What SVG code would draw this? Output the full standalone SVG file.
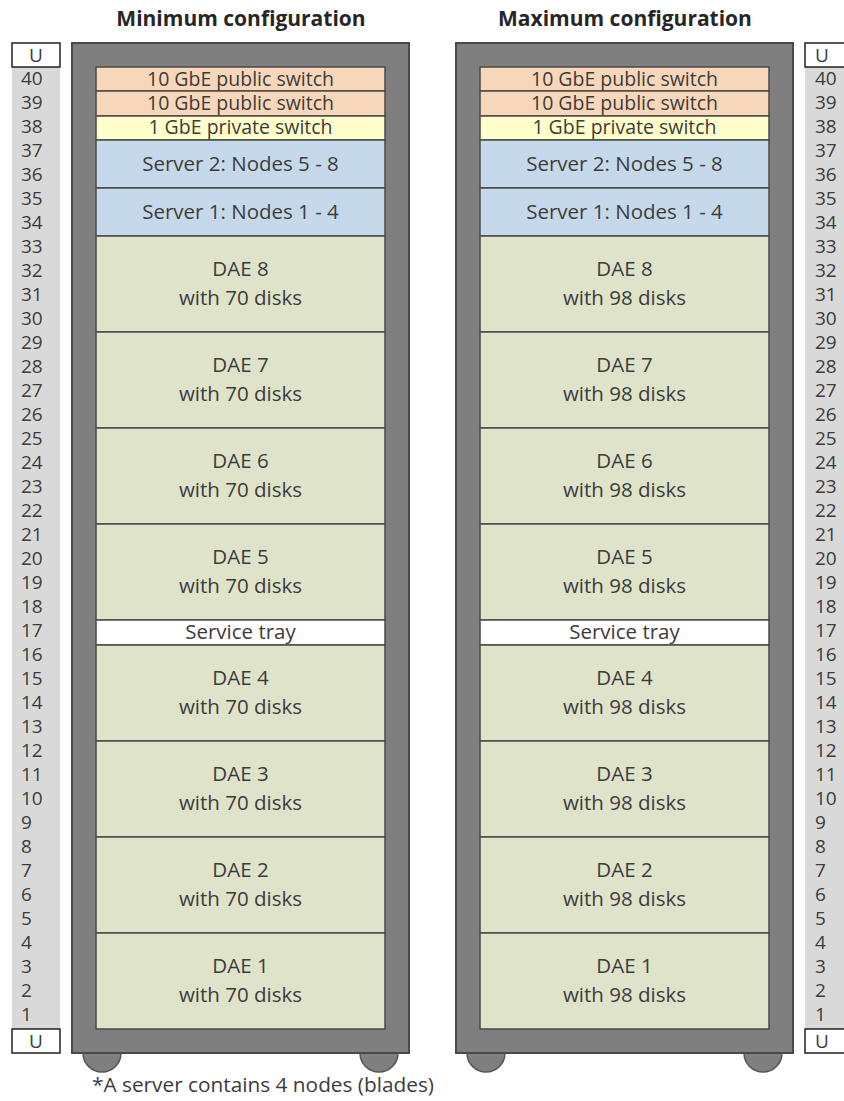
<svg xmlns="http://www.w3.org/2000/svg" width="844" height="1101" viewBox="0 0 844 1101">
  <defs>
    <style>
      text { font-family: "Open Sans", "Noto Sans", "DejaVu Sans", sans-serif; fill: #3c3c3c; }
      .title { font-size: 21px; font-weight: bold; text-anchor: middle; fill: #262626; }
      .u { font-size: 19px; }
      .lbl { font-size: 20.5px; text-anchor: middle; }
      .sw { font-size: 19.5px; }
      .rack { fill: #7f7f7f; stroke: #4a4a4a; stroke-width: 2; }
      .foot { fill: #7f7f7f; stroke: #555; stroke-width: 1.5; }
      .slot { stroke: #4a4a4a; stroke-width: 1.5; }
      .pub { fill: #f8d6ba; }
      .priv { fill: #ffffcb; }
      .srv { fill: #c6d9ea; }
      .dae { fill: #dfe3ca; }
      .tray { fill: #ffffff; }
      .ucol { fill: #d9d9d9; }
      .ubox { fill: #ffffff; stroke: #222; stroke-width: 1.5; }
    </style>
  </defs>

  <!-- titles -->
  <text class="title" x="241" y="26">Minimum configuration</text>
  <text class="title" x="625" y="26">Maximum configuration</text>

  <!-- unit rulers -->
  <g id="ruler-left">
    <rect class="ucol" x="12" y="67" width="48" height="962"/>
    <rect class="ubox" x="12" y="43" width="48" height="24"/>
    <rect class="ubox" x="12" y="1029" width="48" height="24"/>
    <text class="u" x="36" y="62" text-anchor="middle">U</text>
    <text class="u" x="36" y="1048" text-anchor="middle">U</text>
    <g class="u">
      <text x="21" y="85">40</text><text x="21" y="109">39</text><text x="21" y="133">38</text><text x="21" y="157">37</text>
      <text x="21" y="181">36</text><text x="21" y="205">35</text><text x="21" y="229">34</text><text x="21" y="253">33</text>
      <text x="21" y="277">32</text><text x="21" y="301">31</text><text x="21" y="325">30</text><text x="21" y="349">29</text>
      <text x="21" y="373">28</text><text x="21" y="397">27</text><text x="21" y="421">26</text><text x="21" y="445">25</text>
      <text x="21" y="469">24</text><text x="21" y="493">23</text><text x="21" y="517">22</text><text x="21" y="541">21</text>
      <text x="21" y="565">20</text><text x="21" y="589">19</text><text x="21" y="613">18</text><text x="21" y="637">17</text>
      <text x="21" y="661">16</text><text x="21" y="685">15</text><text x="21" y="709">14</text><text x="21" y="733">13</text>
      <text x="21" y="757">12</text><text x="21" y="781">11</text><text x="21" y="805">10</text><text x="21" y="829">9</text>
      <text x="21" y="853">8</text><text x="21" y="877">7</text><text x="21" y="901">6</text><text x="21" y="925">5</text>
      <text x="21" y="949">4</text><text x="21" y="973">3</text><text x="21" y="997">2</text><text x="21" y="1021">1</text>
    </g>
  </g>

  <g id="ruler-right">
    <rect class="ucol" x="805" y="67" width="48" height="962"/>
    <rect class="ubox" x="805" y="43" width="48" height="24"/>
    <rect class="ubox" x="805" y="1029" width="48" height="24"/>
    <text class="u" x="822" y="62" text-anchor="middle">U</text>
    <text class="u" x="822" y="1048" text-anchor="middle">U</text>
    <g class="u">
      <text x="815" y="85">40</text><text x="815" y="109">39</text><text x="815" y="133">38</text><text x="815" y="157">37</text>
      <text x="815" y="181">36</text><text x="815" y="205">35</text><text x="815" y="229">34</text><text x="815" y="253">33</text>
      <text x="815" y="277">32</text><text x="815" y="301">31</text><text x="815" y="325">30</text><text x="815" y="349">29</text>
      <text x="815" y="373">28</text><text x="815" y="397">27</text><text x="815" y="421">26</text><text x="815" y="445">25</text>
      <text x="815" y="469">24</text><text x="815" y="493">23</text><text x="815" y="517">22</text><text x="815" y="541">21</text>
      <text x="815" y="565">20</text><text x="815" y="589">19</text><text x="815" y="613">18</text><text x="815" y="637">17</text>
      <text x="815" y="661">16</text><text x="815" y="685">15</text><text x="815" y="709">14</text><text x="815" y="733">13</text>
      <text x="815" y="757">12</text><text x="815" y="781">11</text><text x="815" y="805">10</text><text x="815" y="829">9</text>
      <text x="815" y="853">8</text><text x="815" y="877">7</text><text x="815" y="901">6</text><text x="815" y="925">5</text>
      <text x="815" y="949">4</text><text x="815" y="973">3</text><text x="815" y="997">2</text><text x="815" y="1021">1</text>
    </g>
  </g>

  <!-- minimum configuration rack -->
  <g id="rack-min">
    <circle class="foot" cx="102" cy="1053" r="19"/>
    <circle class="foot" cx="379" cy="1053" r="19"/>
    <rect class="rack" x="72" y="43" width="337" height="1010"/>
    <g transform="translate(96,0)">
      <rect class="slot pub" x="0" y="67" width="289" height="24"/>
      <rect class="slot pub" x="0" y="91" width="289" height="25"/>
      <rect class="slot priv" x="0" y="116" width="289" height="24"/>
      <rect class="slot srv" x="0" y="140" width="289" height="48"/>
      <rect class="slot srv" x="0" y="188" width="289" height="48"/>
      <rect class="slot dae" x="0" y="236" width="289" height="96"/>
      <rect class="slot dae" x="0" y="332" width="289" height="96"/>
      <rect class="slot dae" x="0" y="428" width="289" height="96"/>
      <rect class="slot dae" x="0" y="524" width="289" height="96"/>
      <rect class="slot tray" x="0" y="620" width="289" height="25"/>
      <rect class="slot dae" x="0" y="645" width="289" height="96"/>
      <rect class="slot dae" x="0" y="741" width="289" height="96"/>
      <rect class="slot dae" x="0" y="837" width="289" height="96"/>
      <rect class="slot dae" x="0" y="933" width="289" height="96"/>
      <g class="lbl">
        <text class="sw" x="144.5" y="86">10 GbE public switch</text>
        <text class="sw" x="144.5" y="110">10 GbE public switch</text>
        <text class="sw" x="144.5" y="134">1 GbE private switch</text>
        <text x="144.5" y="171">Server 2: Nodes 5 - 8</text>
        <text x="144.5" y="219">Server 1: Nodes 1 - 4</text>
        <text x="144.5" y="276">DAE 8</text><text x="144.5" y="305">with 70 disks</text>
        <text x="144.5" y="372">DAE 7</text><text x="144.5" y="401">with 70 disks</text>
        <text x="144.5" y="468">DAE 6</text><text x="144.5" y="497">with 70 disks</text>
        <text x="144.5" y="564">DAE 5</text><text x="144.5" y="593">with 70 disks</text>
        <text x="144.5" y="639">Service tray</text>
        <text x="144.5" y="685">DAE 4</text><text x="144.5" y="714">with 70 disks</text>
        <text x="144.5" y="781">DAE 3</text><text x="144.5" y="810">with 70 disks</text>
        <text x="144.5" y="877">DAE 2</text><text x="144.5" y="906">with 70 disks</text>
        <text x="144.5" y="973">DAE 1</text><text x="144.5" y="1002">with 70 disks</text>
      </g>
    </g>
  </g>

  <!-- maximum configuration rack -->
  <g id="rack-max">
    <circle class="foot" cx="486" cy="1053" r="19"/>
    <circle class="foot" cx="763" cy="1053" r="19"/>
    <rect class="rack" x="456" y="43" width="337" height="1010"/>
    <g transform="translate(480,0)">
      <rect class="slot pub" x="0" y="67" width="289" height="24"/>
      <rect class="slot pub" x="0" y="91" width="289" height="25"/>
      <rect class="slot priv" x="0" y="116" width="289" height="24"/>
      <rect class="slot srv" x="0" y="140" width="289" height="48"/>
      <rect class="slot srv" x="0" y="188" width="289" height="48"/>
      <rect class="slot dae" x="0" y="236" width="289" height="96"/>
      <rect class="slot dae" x="0" y="332" width="289" height="96"/>
      <rect class="slot dae" x="0" y="428" width="289" height="96"/>
      <rect class="slot dae" x="0" y="524" width="289" height="96"/>
      <rect class="slot tray" x="0" y="620" width="289" height="25"/>
      <rect class="slot dae" x="0" y="645" width="289" height="96"/>
      <rect class="slot dae" x="0" y="741" width="289" height="96"/>
      <rect class="slot dae" x="0" y="837" width="289" height="96"/>
      <rect class="slot dae" x="0" y="933" width="289" height="96"/>
      <g class="lbl">
        <text class="sw" x="144.5" y="86">10 GbE public switch</text>
        <text class="sw" x="144.5" y="110">10 GbE public switch</text>
        <text class="sw" x="144.5" y="134">1 GbE private switch</text>
        <text x="144.5" y="171">Server 2: Nodes 5 - 8</text>
        <text x="144.5" y="219">Server 1: Nodes 1 - 4</text>
        <text x="144.5" y="276">DAE 8</text><text x="144.5" y="305">with 98 disks</text>
        <text x="144.5" y="372">DAE 7</text><text x="144.5" y="401">with 98 disks</text>
        <text x="144.5" y="468">DAE 6</text><text x="144.5" y="497">with 98 disks</text>
        <text x="144.5" y="564">DAE 5</text><text x="144.5" y="593">with 98 disks</text>
        <text x="144.5" y="639">Service tray</text>
        <text x="144.5" y="685">DAE 4</text><text x="144.5" y="714">with 98 disks</text>
        <text x="144.5" y="781">DAE 3</text><text x="144.5" y="810">with 98 disks</text>
        <text x="144.5" y="877">DAE 2</text><text x="144.5" y="906">with 98 disks</text>
        <text x="144.5" y="973">DAE 1</text><text x="144.5" y="1002">with 98 disks</text>
      </g>
    </g>
  </g>

  <!-- footnote -->
  <text x="92" y="1092" style="font-size:20.8px">*A server contains 4 nodes (blades)</text>
</svg>
